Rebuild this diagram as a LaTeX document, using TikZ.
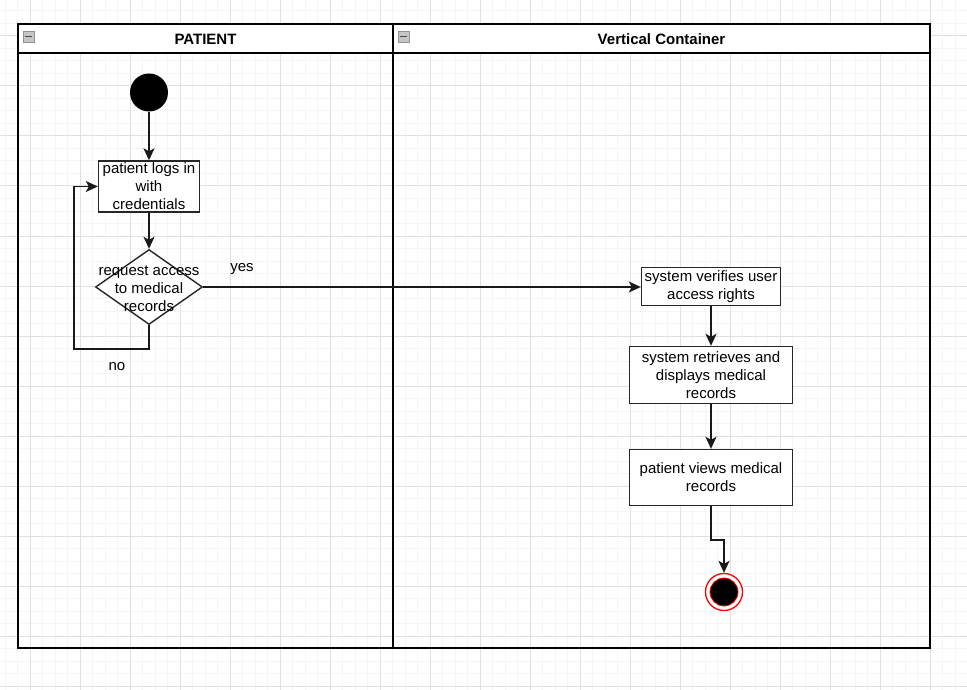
\documentclass[tikz,border=0pt]{standalone}
\usepackage{fontspec}
\setmainfont{Liberation Sans}
\usepackage{tikz}
\usetikzlibrary{arrows.meta,shapes.geometric,calc}
\definecolor{gridminor}{RGB}{245,245,245}
\definecolor{gridmajor}{RGB}{224,224,224}
\definecolor{endred}{RGB}{255,0,0}
\tikzset{
	act/.style={draw=black!85, line width=1.4pt, fill=white, align=center, inner sep=0pt},
	flow/.style={draw=black!90, line width=1.5pt, -{Stealth[length=12pt,width=11pt,inset=3pt]}},
	lanehead/.style={font=\fontsize{15}{18}\selectfont\bfseries},
	folder/.style={draw=gray!85, fill=gray!45, line width=0.8pt}
}
\begin{document}
\begin{tikzpicture}[x=1pt, y=-1pt, font=\fontsize{15}{18}\selectfont]
\useasboundingbox (0,0) rectangle (967,690);
\fill[white] (0,0) rectangle (967,690);
\foreach \x in {5,17.5,...,967} \draw[gridminor, line width=1pt] (\x,0) -- (\x,690);
\foreach \y in {11,23.5,...,690} \draw[gridminor, line width=1pt] (0,\y) -- (967,\y);
\foreach \x in {30,80,...,930} \draw[gridmajor, line width=1pt] (\x,0) -- (\x,690);
\foreach \y in {36,86,...,686} \draw[gridmajor, line width=1pt] (0,\y) -- (967,\y);

\fill[white] (18,24) rectangle (930,53);
\draw[line width=1.5pt] (18,24) rectangle (930,648);
\draw[line width=1.5pt] (18,53) -- (930,53);
\draw[line width=1.5pt] (393,24) -- (393,648);
\draw[folder] (23,31) rectangle (34,42);
\draw[black!70, line width=1.6pt] (25,36.5) -- (32,36.5);
\draw[folder] (398,31) rectangle (409,42);
\draw[black!70, line width=1.6pt] (400,36.5) -- (407,36.5);
\node[lanehead] (patient) at (205.5,39) {PATIENT};
\node[lanehead] (container) at (661.5,39) {Vertical Container};

\node[circle, fill=black, minimum size=38pt, inner sep=0pt] (start) at (149,92.5) {};
\node[act, minimum width=101pt, minimum height=51pt] (login) at (149,186.5) {patient logs in\\with\\credentials};
\node[diamond, draw=black!85, line width=1.4pt, fill=white, minimum width=107pt, minimum height=75pt, inner sep=0pt,
	label={[align=center, yshift=-2pt]center:{request access\\to medical\\records}}] (decide) at (149,287) {};
\node[act, minimum width=139pt, minimum height=38pt] (verify) at (711,286.5) {system verifies user\\access rights};
\node[act, minimum width=163pt, minimum height=57pt] (retrieve) at (711,375) {system retrieves and\\displays medical\\records};
\node[act, minimum width=163pt, minimum height=56pt] (view) at (711,477.5) {patient views medical\\records};
\node[circle, draw=endred, line width=1.3pt, fill=white, minimum size=37pt, inner sep=0pt] (stop) at (724,592) {};
\draw[endred, fill=black, line width=0.8pt] (stop.center) circle (14pt);

\node (yeslbl) at (242,269) {yes};
\node (nolbl) at (117,367) {no};
\coordinate (noturn) at (74,349);
\coordinate (jog) at (711,540);

\path
(start) edge[flow] (login)
(login) edge[flow] (decide)
(decide.east) edge[flow] (decide.east -| verify.west)
(verify) edge[flow] (retrieve)
(retrieve) edge[flow] (view)
;
\draw[flow] (decide.south) |- (noturn) |- (login.west);
\draw[flow] (view.south) -- (jog) -| (stop.north);
\end{tikzpicture}
\end{document}
